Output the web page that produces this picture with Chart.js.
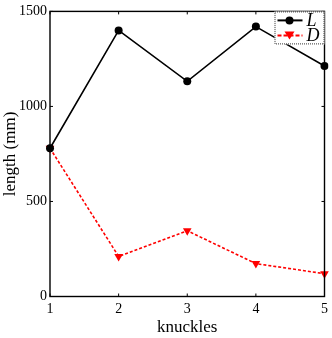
<!DOCTYPE html>
<html>
<head>
<meta charset="utf-8">
<script src="https://cdn.jsdelivr.net/npm/chart.js@4.4.1/dist/chart.umd.min.js"></script>
<style>
  html, body { margin: 0; padding: 0; background: #fff; }
  #wrap { width: 332px; height: 338px; }
</style>
</head>
<body>
<div id="wrap"><canvas id="lengthChart" width="332" height="338"></canvas></div>
<script>
// values
const knuckles = ['1', '2', '3', '4', '5'];
const lengthL = [780, 1400, 1132, 1420, 1213];
const lengthD = [780, 211, 346, 173, 120];
const yTicks = [0, 500, 1000, 1500];

const serif = '"Liberation Serif", "DejaVu Serif", serif';

// box around the plot, inward ticks on all sides, and the little dotted legend
const framePlugin = {
    id: 'frame',
    afterDraw(chart) {
        const ctx = chart.ctx;
        const a = chart.chartArea;
        const x = chart.scales.x;
        const y = chart.scales.y;
        ctx.save();
        ctx.strokeStyle = '#000';
        ctx.lineWidth = 1.4;
        ctx.setLineDash([]);
        ctx.strokeRect(a.left, a.top, a.right - a.left, a.bottom - a.top);

        ctx.lineWidth = 1;
        const t = 3;
        ctx.beginPath();
        knuckles.forEach((k, i) => {
            const px = x.getPixelForValue(i);
            ctx.moveTo(px, a.bottom); ctx.lineTo(px, a.bottom - t);
            ctx.moveTo(px, a.top); ctx.lineTo(px, a.top + t);
        });
        yTicks.forEach(v => {
            const py = y.getPixelForValue(v);
            ctx.moveTo(a.left, py); ctx.lineTo(a.left + t, py);
            ctx.moveTo(a.right, py); ctx.lineTo(a.right - t, py);
        });
        ctx.stroke();

        // legend
        const bx = a.right - 50, by = a.top, bw = 50, bh = 33;
        ctx.fillStyle = '#fff';
        ctx.fillRect(bx, by, bw, bh);
        ctx.strokeStyle = '#333';
        ctx.lineWidth = 1;
        ctx.setLineDash([1, 1]);
        ctx.strokeRect(bx + 0.5, by + 0.5, bw - 1, bh - 1);

        // L entry
        let ly = by + 9;
        ctx.setLineDash([]);
        ctx.strokeStyle = '#000';
        ctx.lineWidth = 2;
        ctx.beginPath(); ctx.moveTo(bx + 3, ly); ctx.lineTo(bx + 28, ly); ctx.stroke();
        ctx.fillStyle = '#000';
        ctx.beginPath(); ctx.arc(bx + 15, ly, 4, 0, Math.PI * 2); ctx.fill();

        // D entry
        let dy = by + 24;
        ctx.strokeStyle = '#ff0000';
        ctx.setLineDash([4, 2]);
        ctx.beginPath(); ctx.moveTo(bx + 3, dy); ctx.lineTo(bx + 28, dy); ctx.stroke();
        ctx.setLineDash([]);
        ctx.fillStyle = '#ff0000';
        ctx.beginPath();
        ctx.moveTo(bx + 10, dy - 4); ctx.lineTo(bx + 20, dy - 4); ctx.lineTo(bx + 15, dy + 4);
        ctx.closePath(); ctx.fill();

        ctx.fillStyle = '#000';
        ctx.font = 'italic 18px ' + serif;
        ctx.textBaseline = 'middle';
        ctx.textAlign = 'left';
        ctx.fillText('L', bx + 32, ly + 1);
        ctx.fillText('D', bx + 32, dy + 1);
        ctx.restore();
    }
};

const ctx = document.getElementById('lengthChart').getContext('2d');
new Chart(ctx, {
    type: 'line',
    data: {
        labels: knuckles,
        datasets: [{
            label: 'L',
            data: lengthL,
            borderColor: '#000',
            backgroundColor: '#000',
            borderWidth: 1.6,
            pointStyle: 'circle',
            pointRadius: 4,
            pointBorderWidth: 0,
            tension: 0,
            fill: false
        }, {
            label: 'D',
            data: lengthD,
            borderColor: '#ff0000',
            backgroundColor: '#ff0000',
            borderWidth: 1.6,
            borderDash: [3, 2],
            pointStyle: 'triangle',
            rotation: 180,
            pointRadius: 5,
            pointBorderWidth: 0,
            tension: 0,
            fill: false
        }]
    },
    options: {
        responsive: false,
        animation: false,
        layout: { padding: { left: 0, right: 5, top: 7, bottom: 0 } },
        plugins: {
            legend: { display: false },
            tooltip: { enabled: false }
        },
        scales: {
            x: {
                type: 'category',
                offset: false,
                grid: { display: false, drawTicks: false },
                border: { display: false },
                ticks: { color: '#000', font: { family: serif, size: 14 }, padding: 4, maxRotation: 0 },
                title: { display: true, text: 'knuckles', color: '#000', font: { family: serif, size: 17 }, padding: { top: 7, bottom: 0 } },
                afterFit(s) { s.height = 41.5; }
            },
            y: {
                min: 0,
                max: 1500,
                afterBuildTicks(s) { s.ticks = yTicks.map(v => ({ value: v })); },
                grid: { display: false, drawTicks: false },
                border: { display: false },
                ticks: { color: '#000', font: { family: serif, size: 14 }, padding: 3, callback: v => String(v) },
                title: { display: true, text: 'length (mm)', color: '#000', font: { family: serif, size: 17 }, padding: { top: 0, bottom: 2 } },
                afterFit(s) { s.width = 50; }
            }
        }
    },
    plugins: [framePlugin]
});
</script>
</body>
</html>
